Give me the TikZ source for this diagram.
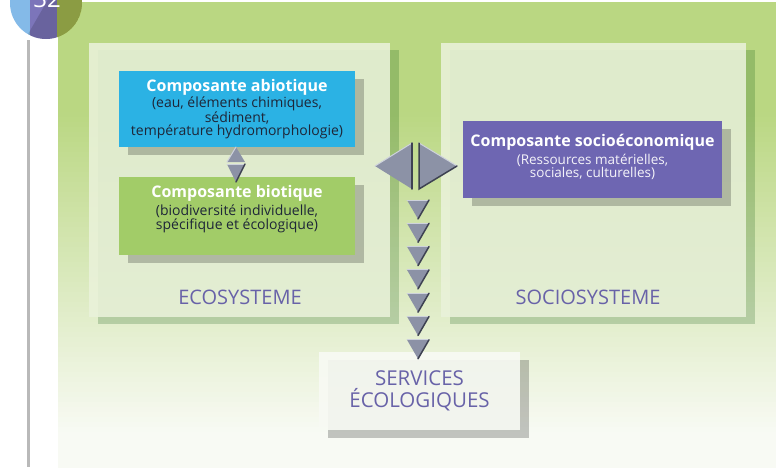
\documentclass[tikz,border=0pt]{standalone}
\usepackage{fontspec}
\setmainfont{Open Sans}
\usetikzlibrary{shadows}

% couleurs
\definecolor{vertfond}{RGB}{186,215,130}
\definecolor{vertclair}{RGB}{248,250,244}
\definecolor{fondpanneau}{RGB}{234,242,218}
\definecolor{bleuabio}{RGB}{43,178,228}
\definecolor{vertbio}{RGB}{162,204,104}
\definecolor{violetsocio}{RGB}{110,102,178}
\definecolor{texteviolet}{RGB}{104,98,168}
\definecolor{textefonce}{RGB}{30,38,56}
\definecolor{gristri}{RGB}{140,146,166}
\definecolor{gristriclair}{RGB}{206,210,220}
\definecolor{gristrifonce}{RGB}{62,66,82}

\newcommand\fonttitre{\fontsize{16}{18}\selectfont\bfseries\color{white}}

\tikzset{
  panneau/.style={rectangle, inner sep=0pt, fill=fondpanneau, fill opacity=0.88,
    drop shadow={shadow xshift=9pt, shadow yshift=-7pt, fill=black!70!green, opacity=0.2}},
  boite/.style={rectangle, inner sep=0pt, align=center, text=textefonce,
    font=\fontsize{14}{13}\selectfont,
    drop shadow={shadow xshift=9pt, shadow yshift=-8pt, fill=black, opacity=0.22}},
  texte/.style={align=center, font=\fontsize{14}{14}\selectfont},
  systeme/.style={text=texteviolet, font=\fontsize{20}{22}\selectfont},
  triangle/.style={fill=gristri},
  arete/.style={line width=1.5pt, gristrifonce, line cap=round},
  reflet/.style={line width=1pt, gristriclair, line cap=round}
}

\begin{document}
\begin{tikzpicture}[x=1pt,y=-1pt]
  \useasboundingbox (0,0) rectangle (776,467);
  \clip (0,0) rectangle (776,467);

  % fond vert, qui s'eclaircit vers le bas (bandes de 5pt)
  \foreach \i in {0,...,93}{
    \pgfmathsetmacro\ya{1.5+5*\i}
    \pgfmathsetmacro\q{100*max(0,min(1,(\ya-110)/320))}
    \fill[vertclair!\q!vertfond] (58,\ya) rectangle (776,\ya+5.6);
  }

  % trait gris de la marge
  \fill[gray!55] (27,40) rectangle (30,467);

  % pastille du numero de page
  \begin{scope}
    \clip (46,3) circle (36);
    \fill[cyan!40!white!85!blue] (0,-40) rectangle (30,45);
    \fill[violetsocio!90] (30,-40) rectangle (57,45);
    \fill[olive!70!green!65] (57,-40) rectangle (90,45);
    \fill[black, opacity=0.15] (46,3) ++(-60:36) arc (-60:120:36) -- cycle;
  \end{scope}
  \node[text=white, font=\fontsize{24}{24}\selectfont] (page) at (47,-1) {32};

  % les deux grands panneaux
  \node[panneau, minimum width=301pt, minimum height=274pt] (eco) at (239.5,180) {};
  \node[panneau, minimum width=305pt, minimum height=274pt] (socio) at (593.5,180) {};
  \node[systeme] at (240,297) {ECOSYSTEME};
  \node[systeme] at (588,297) {SOCIOSYSTEME};

  % composantes
  \node[boite, fill=bleuabio, minimum width=236pt, minimum height=76pt] (abio) at (237,109)
    {{\fonttitre Composante abiotique}\\[1pt] (eau, éléments chimiques,\\ sédiment,\\ température hydromorphologie)};
  \node[boite, fill=vertbio, minimum width=236pt, minimum height=78pt] (bio) at (237,216) {};
  \node[texte, text=textefonce] at (237,209)
    {{\fonttitre Composante biotique}\\[2pt] (biodiversité individuelle,\\ spécifique et écologique)};
  \node[boite, fill=violetsocio, minimum width=259pt, minimum height=77pt] (soceco) at (592.5,159.5) {};
  \node[texte, text=white!92!violetsocio, font=\fontsize{13.5}{13}\selectfont] at (592.5,157)
    {{\fonttitre Composante socioéconomique}\\[2pt] (Ressources matérielles,\\ sociales, culturelles)};

  % services
  \node[boite, fill=vertclair, fill opacity=0.9, text opacity=1, text=texteviolet,
    font=\fontsize{20.5}{22}\selectfont, minimum width=201pt, minimum height=78pt] (serv) at (419.5,391)
    {SERVICES\\ÉCOLOGIQUES};

  % fleches abiotique <-> biotique
  \fill[triangle] (227,162) -- (245,162) -- (236,147) -- cycle;
  \draw[reflet] (227,162) -- (236,147);
  \fill[triangle] (227,164) -- (245,164) -- (236,182) -- cycle;
  \draw[reflet] (227,164) -- (245,164);
  \draw[arete] (245,164) -- (236,182);

  % fleches ecosysteme <-> sociosysteme
  \fill[triangle] (412,143) -- (412,189) -- (375,166) -- cycle;
  \draw[reflet] (375,166) -- (412,143);
  \draw[arete] (412,143) -- (412,189);
  \fill[triangle] (419,143) -- (419,189) -- (457,166) -- cycle;
  \draw[reflet] (419,143) -- (457,166);
  \draw[arete] (419,143) -- (419,189) -- (457,166);

  % colonne de fleches vers les services
  \foreach \k in {0,...,6}{
    \pgfmathsetmacro\yh{200+23.3*\k}
    \fill[triangle] (407,\yh) -- (429,\yh) -- (418,\yh+19) -- cycle;
    \draw[reflet] (407,\yh) -- (429,\yh);
    \draw[arete] (429,\yh) -- (418,\yh+19);
  }
\end{tikzpicture}
\end{document}
